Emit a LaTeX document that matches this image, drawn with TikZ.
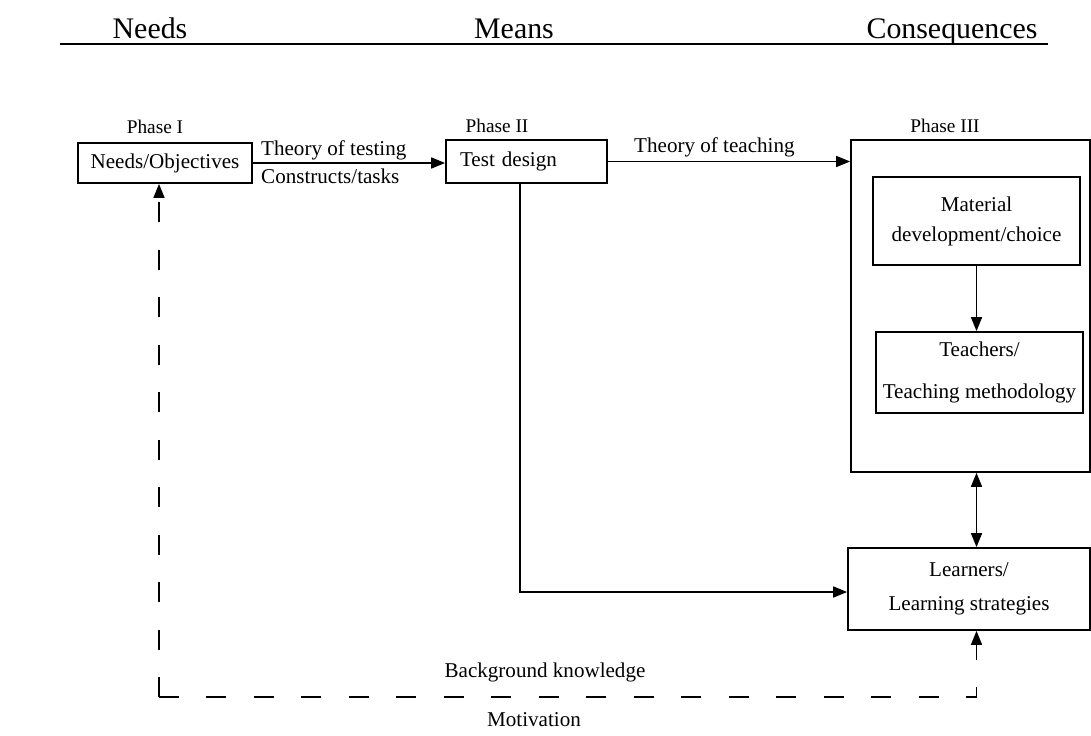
\documentclass[tikz,border=0pt]{standalone}
\usepackage{fontspec}
\setmainfont{Liberation Serif}
\usetikzlibrary{arrows.meta,positioning,calc}

\begin{document}
\begin{tikzpicture}[x=0.02cm, y=-0.02cm,
    box/.style={draw, line width=1pt, inner sep=2pt, font=\fontsize{12}{14}\selectfont},
    head/.style={anchor=base, font=\fontsize{17}{20}\selectfont},
    phase/.style={font=\fontsize{11}{13}\selectfont},
    lbl/.style={font=\fontsize{12}{14}\selectfont},
    arr/.style={-{Triangle[length=0.28cm, width=0.22cm]}, line width=0.9pt},
    darr/.style={{Triangle[length=0.28cm, width=0.22cm]}-{Triangle[length=0.28cm, width=0.22cm]}, line width=0.9pt},
    dashloop/.style={arr, dash pattern=on 0.4cm off 0.55cm},
]
\useasboundingbox (0,0) rectangle (1091,736);

% Headings
\node[head] (hneeds) at (150,39) {Needs};
\node[head] (hmeans) at (514,39) {Means};
\node[head] (hcons) at (952,39) {Consequences};
\coordinate (rulel) at (60,44);
\coordinate (ruler) at (1048,44);
\draw[line width=1.1pt] (rulel) -- (ruler);

% Phases
\node[phase] (ph1) at (155,127) {Phase I};
\node[phase] (ph2) at (497,126) {Phase II};
\node[phase] (ph3) at (945,126) {Phase III};

% Boxes
\node[box, minimum width=3.48cm, minimum height=0.8cm] (needs) at (165,163) {Needs/Objectives};
\node[box, minimum width=3.22cm, minimum height=0.86cm, text width=2.66cm, align=left] (test) at (526.5,161.5) {Test design};
\node[box, minimum width=4.78cm, minimum height=6.64cm] (cons) at (970.5,306) {};
\node[box, minimum width=4.14cm, minimum height=1.76cm, align=center] (mat) at (976.5,221) {Material\\[3pt]development/choice};
\node[box, minimum width=4.14cm, minimum height=1.62cm, align=center] (teach) at (979.5,372.5) {Teachers/\\[10pt]Teaching methodology};
\node[box, minimum width=4.84cm, minimum height=1.64cm, align=center] (learn) at (969,589) {Learners/\\[5pt]Learning strategies};

% Labels
\node[lbl, anchor=west] (ltest) at (255,150) {Theory of testing};
\node[lbl, anchor=west] (lcon) at (255,176) {Constructs/tasks};
\node[lbl, anchor=west] (lteach) at (628,147) {Theory of teaching};
\node[lbl] (lback) at (545,672) {Background knowledge};
\node[lbl] (lmot) at (534,720) {Motivation};

% Arrows
\coordinate (turn) at (520,592);
\coordinate (loop) at (159,697);
\draw[arr] (needs.east) -- (needs.east -| test.west);
\draw[arr] (test.east) -- (test.east -| cons.west);
\draw[arr] (mat.south) -- (mat.south |- teach.north);
\draw[darr] (cons.south -| mat.south) -- (learn.north -| mat.south);
\draw[arr] (test.south -| turn) -- (turn) -- (turn -| learn.west);
\draw[dashloop] (loop) -- (needs.south -| loop);
\draw[dashloop] (loop) -| (learn.south -| mat.south);
\end{tikzpicture}
\end{document}
